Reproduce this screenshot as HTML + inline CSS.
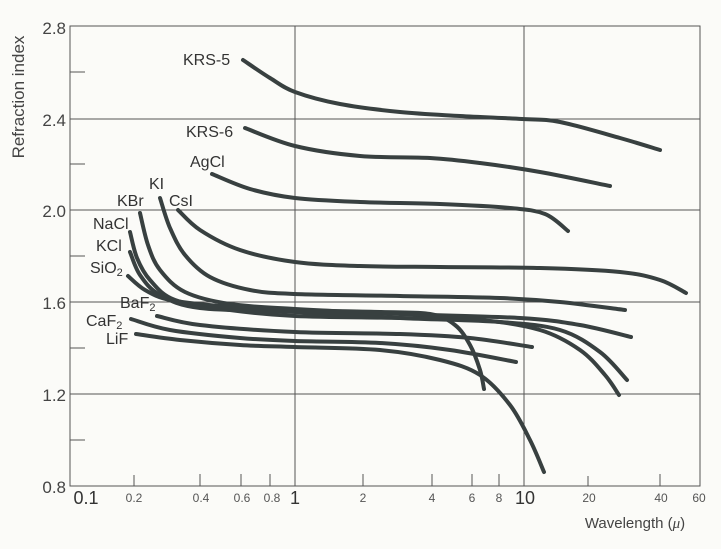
<!DOCTYPE html>
<html><head><meta charset="utf-8"><style>
html,body{margin:0;padding:0;background:#fbfbf8;}
svg{display:block;font-family:"Liberation Sans",sans-serif;}
</style></head><body>
<svg id="s" width="721" height="549" viewBox="0 0 721 549">
<rect width="721" height="549" fill="#fbfbf8"/>
<g stroke="#555" stroke-width="1" fill="none">
<rect x="70" y="26" width="630" height="460"/>
<line x1="70" y1="119" x2="700" y2="119"/><line x1="70" y1="210" x2="700" y2="210"/>
<line x1="70" y1="302" x2="700" y2="302"/><line x1="70" y1="394" x2="700" y2="394"/>
<line x1="295" y1="26" x2="295" y2="486"/><line x1="524" y1="26" x2="524" y2="486"/>
<line x1="70" y1="72" x2="85" y2="72"/><line x1="70" y1="164" x2="85" y2="164"/>
<line x1="70" y1="256" x2="85" y2="256"/><line x1="70" y1="348" x2="85" y2="348"/>
<line x1="70" y1="440" x2="85" y2="440"/>
<line x1="134" y1="486" x2="134" y2="475"/><line x1="200" y1="486" x2="200" y2="474"/>
<line x1="241" y1="486" x2="241" y2="474"/><line x1="270" y1="486" x2="270" y2="474"/>
<line x1="363" y1="486" x2="363" y2="474"/><line x1="432" y1="486" x2="432" y2="474"/>
<line x1="472" y1="486" x2="472" y2="474"/><line x1="499" y1="486" x2="499" y2="474"/>
<line x1="588" y1="486" x2="588" y2="476"/><line x1="660" y1="486" x2="660" y2="474"/>
</g>
<g id="c" fill="none" stroke="#384040" stroke-width="4" stroke-linecap="round" stroke-linejoin="round">
<polyline points="243,60 270,78 295,92 340,104 400,112 460,116 522,119 560,122 620,138 660,150"/>
<polyline points="245,128 295,146 360,156 430,158 480,163 540,172 610,186"/>
<polyline points="212,174 250,189 295,198 360,202 440,204 510,208 545,214 568,231"/>
<polyline points="178,210 200,230 240,250 295,262 360,266 440,267 540,268 620,272 660,280 686,293"/>
<polyline points="160,198 170,228 185,255 210,277 250,290 295,294 400,296 500,298 560,302 625,310"/>
<polyline points="140,213 148,245 160,270 185,292 230,304 295,309 400,314 520,318 580,325 631,337"/>
<polyline points="130,232 137,258 150,280 175,300 230,310 295,316 400,318 480,320 540,330 580,350 605,375 619,395"/>
<polyline points="130,252 140,275 160,295 200,308 295,312 400,318 500,322 560,330 600,352 627,380"/>
<polyline points="128,276 145,290 170,300 220,306 295,310 380,312 430,314 455,325 470,345 480,370 484,389"/>
<polyline points="157,316 200,325 295,332 400,334 470,338 532,347"/>
<polyline points="131,319 170,330 240,338 295,341 380,343 450,350 516,362"/>
<polyline points="136,334 180,340 240,345 295,347 380,350 440,360 480,375 510,405 530,440 544,472"/>
</g>
<g fill="#333" font-size="16">
<text x="183" y="65">KRS-5</text><text x="186" y="137">KRS-6</text>
<text x="190" y="167">AgCl</text><text x="149" y="189">KI</text>
<text x="117" y="206">KBr</text><text x="169" y="206">CsI</text>
<text x="93" y="229">NaCl</text><text x="96" y="251">KCl</text>
<text x="90" y="273">SiO<tspan font-size="11" dy="3">2</tspan></text>
<text x="120" y="308">BaF<tspan font-size="11" dy="3">2</tspan></text>
<text x="86" y="326">CaF<tspan font-size="11" dy="3">2</tspan></text>
<text x="106" y="344">LiF</text>
</g>
<g fill="#444" font-size="17" text-anchor="end">
<text x="66" y="34">2.8</text><text x="66" y="126">2.4</text><text x="66" y="217">2.0</text>
<text x="66" y="309">1.6</text><text x="66" y="401">1.2</text><text x="66" y="493">0.8</text>
</g>
<g fill="#555" font-size="12" text-anchor="middle">
<text x="134" y="502">0.2</text><text x="201" y="502">0.4</text><text x="242" y="502">0.6</text><text x="272" y="502">0.8</text>
<text x="363" y="502">2</text><text x="432" y="502">4</text><text x="472" y="502">6</text><text x="499" y="502">8</text>
<text x="589" y="502">20</text><text x="661" y="502">40</text><text x="699" y="502">60</text>
</g>
<g fill="#333" font-size="18" text-anchor="middle">
<text x="86" y="504">0.1</text><text x="295" y="504">1</text><text x="525" y="504">10</text>
</g>
<text x="635" y="528" font-size="15" fill="#444" text-anchor="middle">Wavelength (<tspan font-family="Liberation Serif" font-style="italic">μ</tspan>)</text>
<text transform="translate(24,97) rotate(-90)" font-size="17" fill="#444" text-anchor="middle">Refraction index</text>
</svg>
<script>
document.querySelectorAll('#c polyline').forEach(function(pl){
 var p=pl.getAttribute('points').trim().split(/\s+/).map(function(s){return s.split(',').map(Number);});
 var d='M'+p[0][0]+','+p[0][1];
 for(var i=0;i<p.length-1;i++){
  var p0=p[i-1]||p[i],p1=p[i],p2=p[i+1],p3=p[i+2]||p2;
  var c1=[p1[0]+(p2[0]-p0[0])/6,p1[1]+(p2[1]-p0[1])/6];
  var c2=[p2[0]-(p3[0]-p1[0])/6,p2[1]-(p3[1]-p1[1])/6];
  d+=' C'+c1[0].toFixed(1)+','+c1[1].toFixed(1)+' '+c2[0].toFixed(1)+','+c2[1].toFixed(1)+' '+p2[0]+','+p2[1];
 }
 var path=document.createElementNS('http://www.w3.org/2000/svg','path');
 path.setAttribute('d',d);
 pl.parentNode.replaceChild(path,pl);
});
</script>
</body></html>
